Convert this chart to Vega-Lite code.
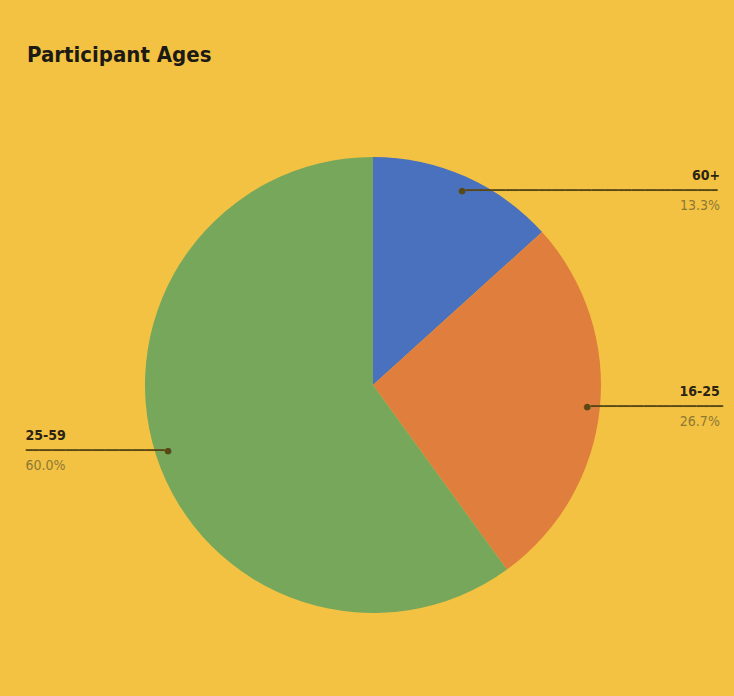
{
  "$schema": "https://vega.github.io/schema/vega-lite/v6.json",
  "width": 722,
  "height": 622,
  "autosize": "none",
  "padding": {"top": 74, "left": 12, "right": 0, "bottom": 0},
  "background": "#F4C243",
  "title": {
    "text": "Participant Ages",
    "anchor": "start",
    "dx": 15,
    "dy": 18,
    "offset": 8,
    "baseline": "alphabetic",
    "fontSize": 22,
    "font": "DejaVu Sans Condensed, Roboto, sans-serif",
    "fontWeight": "bold",
    "color": "#1c1a14"
  },
  "config": {"view": {"stroke": null}},
  "data": {
    "values": [
      {"age": "60+", "share": 0.133, "order": 1},
      {"age": "16-25", "share": 0.267, "order": 2},
      {"age": "25-59", "share": 0.6, "order": 3}
    ]
  },
  "encoding": {
    "theta": {"field": "share", "type": "quantitative", "stack": true},
    "order": {"field": "order", "type": "quantitative"}
  },
  "layer": [
    {
      "mark": {"type": "arc", "outerRadius": 228, "stroke": null},
      "encoding": {
        "color": {
          "field": "age",
          "type": "nominal",
          "scale": {"domain": ["60+", "16-25", "25-59"], "range": ["#4A71BD", "#E07F3D", "#77A75A"]},
          "legend": null
        }
      }
    },
    {
      "mark": {"type": "text", "radius": 212, "align": "left", "baseline": "middle", "font": "DejaVu Sans Mono", "fontSize": 11, "color": "#574814"},
      "encoding": {"text": {"condition": {"test": "datum.age === '60+'", "value": "●━━━━━━━━━━━━━━━━━━━━━━━━━━━━━━━━━━━━━━"}, "value": ""}}
    },
    {
      "mark": {"type": "text", "radius": 212, "align": "left", "baseline": "middle", "font": "DejaVu Sans Mono", "fontSize": 11, "color": "#574814"},
      "encoding": {"text": {"condition": {"test": "datum.age === '16-25'", "value": "●━━━━━━━━━━━━━━━━━━━━"}, "value": ""}}
    },
    {
      "mark": {"type": "text", "radius": 212, "align": "right", "baseline": "middle", "font": "DejaVu Sans Mono", "fontSize": 11, "color": "#574814"},
      "encoding": {"text": {"condition": {"test": "datum.age === '25-59'", "value": "━━━━━━━━━━━━━━━━━━━━━●"}, "value": ""}}
    },
    {
      "mark": {"type": "text", "radius": 212, "align": "right", "baseline": "bottom", "dx": 261, "dy": -8, "font": "DejaVu Sans Condensed, Roboto, sans-serif", "fontWeight": "bold", "fontSize": 14, "color": "#2a2412"},
      "encoding": {"text": {"condition": {"test": "datum.age === '60+'", "field": "age"}, "value": ""}}
    },
    {
      "mark": {"type": "text", "radius": 212, "align": "right", "baseline": "top", "dx": 261, "dy": 8, "font": "DejaVu Sans Condensed, Roboto, sans-serif", "fontSize": 14, "color": "#8C7833"},
      "encoding": {"text": {"condition": {"test": "datum.age === '60+'", "field": "share", "format": ".1%"}, "value": ""}}
    },
    {
      "mark": {"type": "text", "radius": 212, "align": "right", "baseline": "bottom", "dx": 136, "dy": -8, "font": "DejaVu Sans Condensed, Roboto, sans-serif", "fontWeight": "bold", "fontSize": 14, "color": "#2a2412"},
      "encoding": {"text": {"condition": {"test": "datum.age === '16-25'", "field": "age"}, "value": ""}}
    },
    {
      "mark": {"type": "text", "radius": 212, "align": "right", "baseline": "top", "dx": 136, "dy": 8, "font": "DejaVu Sans Condensed, Roboto, sans-serif", "fontSize": 14, "color": "#8C7833"},
      "encoding": {"text": {"condition": {"test": "datum.age === '16-25'", "field": "share", "format": ".1%"}, "value": ""}}
    },
    {
      "mark": {"type": "text", "radius": 212, "align": "left", "baseline": "bottom", "dx": -146, "dy": -8, "font": "DejaVu Sans Condensed, Roboto, sans-serif", "fontWeight": "bold", "fontSize": 14, "color": "#2a2412"},
      "encoding": {"text": {"condition": {"test": "datum.age === '25-59'", "field": "age"}, "value": ""}}
    },
    {
      "mark": {"type": "text", "radius": 212, "align": "left", "baseline": "top", "dx": -146, "dy": 8, "font": "DejaVu Sans Condensed, Roboto, sans-serif", "fontSize": 14, "color": "#8C7833"},
      "encoding": {"text": {"condition": {"test": "datum.age === '25-59'", "field": "share", "format": ".1%"}, "value": ""}}
    }
  ]
}
